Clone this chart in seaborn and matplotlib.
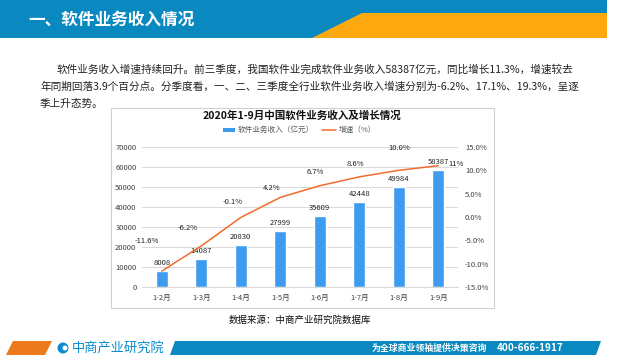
import numpy as np
import pandas as pd
import matplotlib
matplotlib.use('Agg')
import matplotlib.pyplot as plt
import seaborn as sns
from matplotlib.patches import Rectangle, Polygon, Circle

# ── Data ──────────────────────────────────────────────────────────────────────
months   = ["1-2月", "1-3月", "1-4月", "1-5月", "1-6月", "1-7月", "1-8月", "1-9月"]
revenue  = [8008, 14087, 20830, 27999, 35609, 42448, 49984, 58387]
growth   = [-11.6, -6.2, -0.1, 4.2, 6.7, 8.6, 10.0, 11.0]
growth_labels = ["-11.6%", "-6.2%", "-0.1%", "4.2%", "6.7%", "8.6%", "10.0%", "11%"]

title_text  = "一、软件业务收入情况"
para_lines  = ["软件业务收入增速持续回升。前三季度，我国软件业完成软件业务收入58387亿元，同比增长11.3%，增速较去",
               "年同期回落3.9个百分点。分季度看，一、二、三季度全行业软件业务收入增速分别为-6.2%、17.1%、19.3%，呈逐",
               "季上升态势。"]
chart_title = "2020年1-9月中国软件业务收入及增长情况"
source_text = "数据来源：中商产业研究院数据库"

df = pd.DataFrame({"month": months, "revenue": revenue, "growth": growth})

# ── Style ─────────────────────────────────────────────────────────────────────
sns.set_style("white")
plt.rcParams['font.family'] = ['Noto Sans CJK SC', 'DejaVu Sans']

BLUE_BAR = "#3d9cf0"
ORANGE   = "#f26b2a"
HEAD_BLUE = "#0989bf"
HEAD_ORANGE = "#fda80f"
TICK_C = "#404040"

fig = plt.figure(figsize=(6.4, 3.6), dpi=100)

# overlay in pixel coordinates for page decoration
bg = fig.add_axes([0, 0, 1, 1])
bg.set_xlim(0, 640)
bg.set_ylim(360, 0)
bg.axis("off")

# header banner
bg.add_patch(Rectangle((0, 0), 607, 38, color=HEAD_BLUE, lw=0))
curve_x = np.linspace(0, 1, 30)
edge = [(312 + 50 * (3 * t ** 2 - 2 * t ** 3), 38 - 25 * (3 * t ** 2 - 2 * t ** 3)) for t in curve_x]
bg.add_patch(Polygon(edge + [(607, 13), (607, 38)], closed=True, color=HEAD_ORANGE, lw=0))
bg.text(28, 20, title_text, color="white", fontsize=12, fontweight="bold", va="center", ha="left")

# paragraph
bg.text(57, 70, para_lines[0], fontsize=7.65, color="#222222", va="center", ha="left")
bg.text(40, 87, para_lines[1], fontsize=7.65, color="#222222", va="center", ha="left")
bg.text(40, 104, para_lines[2], fontsize=7.65, color="#222222", va="center", ha="left")

# chart frame
bg.add_patch(Rectangle((111, 108), 383, 200, fill=False, ec="#d0d0d0", lw=0.8))
bg.text(302, 116, chart_title, fontsize=7.6, fontweight="bold", color="#111111", ha="center", va="center")

# legend
bg.add_patch(Rectangle((223, 128), 12, 4, color=BLUE_BAR, lw=0))
bg.text(238, 130, "软件业务收入（亿元）", fontsize=5.5, color="#595959", va="center", ha="left")
bg.plot([322, 336], [130, 130], color=ORANGE, lw=1.1)
bg.text(339, 130, "增速（%）", fontsize=5.5, color="#595959", va="center", ha="left")

# source
bg.text(300, 320, source_text, fontsize=6.8, color="#111111", ha="center", va="center")

# footer
bg.add_patch(Polygon([(6, 355), (13, 341), (52, 341), (45, 355)], closed=True, color="#ec7a1c", lw=0))
bg.add_patch(Circle((63, 348), 5.5, color="#0a8ccf", lw=0))
bg.add_patch(Circle((65, 348), 2.5, color="white", lw=0))
bg.text(72, 348, "中商产业研究院", fontsize=9.5, color="#0a8ccf", va="center", ha="left")
bg.add_patch(Polygon([(170, 355), (175, 341), (601, 341), (596, 355)], closed=True, color=HEAD_BLUE, lw=0))
bg.text(372, 348, "为全球商业领袖提供决策咨询", fontsize=6.4, color="white", fontweight="bold", va="center", ha="left")
bg.text(497, 348, "400-666-1917", fontsize=7.2, color="white", fontweight="bold", va="center", ha="left")

# ── Chart ─────────────────────────────────────────────────────────────────────
ax = fig.add_axes([142 / 640, 1 - 287 / 360, 316 / 640, 140 / 360])
sns.barplot(data=df, x="month", y="revenue", color=BLUE_BAR, width=0.3,
            saturation=1, ax=ax)
ax.set_ylim(0, 70000)
ax.set_yticks(range(0, 70001, 10000))
ax.set_xlim(-0.5, len(months) - 0.5)
ax.grid(axis="y", color="#d9d9d9", lw=0.7)
ax.set_axisbelow(True)
for s in ["top", "right", "left"]:
    ax.spines[s].set_visible(False)
ax.spines["bottom"].set_color("#d9d9d9")
ax.tick_params(axis="both", length=0, labelsize=5.5, colors=TICK_C)
ax.tick_params(axis="y", pad=4)
ax.tick_params(axis="x", pad=5)
ax.set_xlabel("")
ax.set_ylabel("")
for i, v in enumerate(revenue):
    ax.annotate(str(v), (i, v), xytext=(0, 3), textcoords="offset points",
                ha="center", va="bottom", fontsize=5.5, color="#222222")

ax2 = ax.twinx()
sns.lineplot(data=df, x="month", y="growth", color=ORANGE, lw=1.1, ax=ax2)
ax2.set_ylim(-15, 15)
ax2.set_yticks(range(-15, 16, 5))
ax2.set_yticklabels([f"{t:.1f}%" for t in range(-15, 16, 5)])
for s in ax2.spines.values():
    s.set_visible(False)
ax2.tick_params(axis="y", length=0, labelsize=5.5, colors=TICK_C, pad=5)
ax2.set_ylabel("")
ax2.grid(False)

# growth labels sit above-left of the line points
label_offsets = [(-11, 22), (-10, 13), (-6, 11), (-6, 7), (-3, 10), (-3, 9), (0, 16), (13, 1)]
for i, (g, lab) in enumerate(zip(growth, growth_labels)):
    dx, dy = label_offsets[i]
    ax2.annotate(lab, (i, g), xytext=(dx, dy), textcoords="offset points",
                 ha="center", va="center", fontsize=5.5, color="#222222")

fig.savefig("out.png", dpi=100)
